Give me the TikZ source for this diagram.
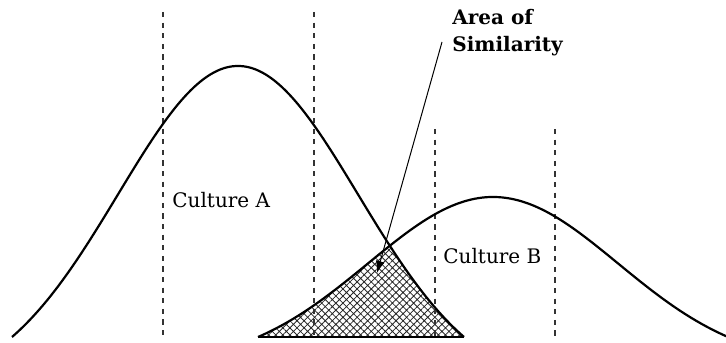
\documentclass[tikz,border=0pt]{standalone}
\usepackage{fontspec}
\setmainfont{DejaVu Serif}
\usetikzlibrary{arrows.meta,patterns.meta}

\begin{document}
\begin{tikzpicture}[x=0.5pt, y=-0.5pt,
	declare function={
		ga(\x)=337-271*(exp(-((\x-238)/100)^2/2.88)-0.1697)/0.8303;
		gb(\x)=337-140*(exp(-((\x-493)/100)^2/3.125)-0.1708)/0.8292;
	},
	curve/.style={line width=1.1pt, smooth},
	guide/.style={line width=0.6pt, black!80, dash pattern=on 2.6pt off 2.7pt},
	label/.style={inner sep=0pt, font=\fontsize{10}{13.5}\selectfont},
	pointer/.style={line width=0.5pt, -{Latex[length=6pt, width=4.5pt]}}
	]
	\useasboundingbox (0,0) rectangle (726,342);

	\fill[pattern={Hatch[angle=45, distance=2.5pt, line width=0.4pt]}, pattern color=black!85]
		plot[domain=258:390, samples=40] ({\x},{gb(\x)})
		-- plot[domain=390:464, samples=30] ({\x},{ga(\x)}) -- cycle;
	\draw[line width=1.1pt] (258,337) -- (464,337);

	\foreach \gx in {163,314} \draw[guide] (\gx,12) -- (\gx,337);
	\foreach \gx in {435,555} \draw[guide] (\gx,129) -- (\gx,337);

	\draw[curve] plot[domain=12:464, samples=120] ({\x},{ga(\x)});
	\draw[curve] plot[domain=258:727, samples=120] ({\x},{gb(\x)});

	\node[label, anchor=base west] (cultA) at (172,207) {Culture A};
	\node[label, anchor=base west] (cultB) at (443,263) {Culture B};
	\node[label, anchor=north west, align=left, font=\fontsize{10}{13.5}\selectfont\bfseries] (area) at (452,9) {Area of\\Similarity};

	\coordinate (ptr) at (442,42);
	\coordinate (tip) at (377,273);
	\draw[pointer] (ptr) -- (tip);
\end{tikzpicture}
\end{document}
